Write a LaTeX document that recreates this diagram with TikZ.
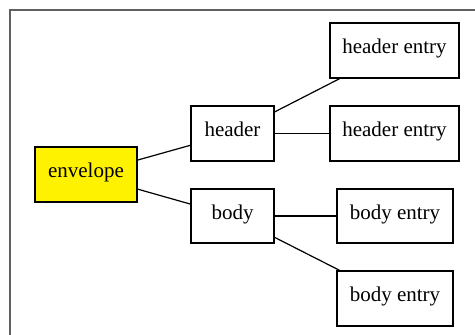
\documentclass[tikz,border=0pt]{standalone}
\usepackage{fontspec}
\setmainfont{Liberation Serif}
\begin{document}
\begin{tikzpicture}[x=1pt,y=-1pt,
  box/.style={draw=black, line width=1.2pt, fill=white, inner sep=0pt,
    font=\fontsize{21}{24}\selectfont, text height=0.88em, text depth=0.25em},
  wire/.style={draw=black, line width=1.2pt}]
\useasboundingbox (0,0) rectangle (475,335);
\clip (0,0) rectangle (475,335);
\fill[white] (0,0) rectangle (475,335);
\draw[gray!75!black, line width=1.2pt] (10,10) rectangle (490,350);

\node[box, fill=yellow, minimum width=102pt, minimum height=55pt] (env) at (86,174.5) {envelope};
\node[box, minimum width=83pt, minimum height=55pt] (hdr) at (232.5,133.5) {header};
\node[box, minimum width=83pt, minimum height=54pt] (bdy) at (232.5,216) {body};
\node[box, minimum width=129pt, minimum height=55pt] (he1) at (394.5,50.5) {header entry};
\node[box, minimum width=129pt, minimum height=55pt] (he2) at (394.5,133.5) {header entry};
\node[box, minimum width=116pt, minimum height=54pt] (be1) at (395,216) {body entry};
\node[box, minimum width=116pt, minimum height=55pt] (be2) at (395,298.5) {body entry};

\draw[wire] (env) -- (hdr);
\draw[wire] (env) -- (bdy);
\draw[wire] (hdr) -- (he1);
\draw[wire] (hdr) -- (he2);
\draw[wire] (bdy) -- (be1);
\draw[wire] (bdy) -- (be2);
\end{tikzpicture}
\end{document}
